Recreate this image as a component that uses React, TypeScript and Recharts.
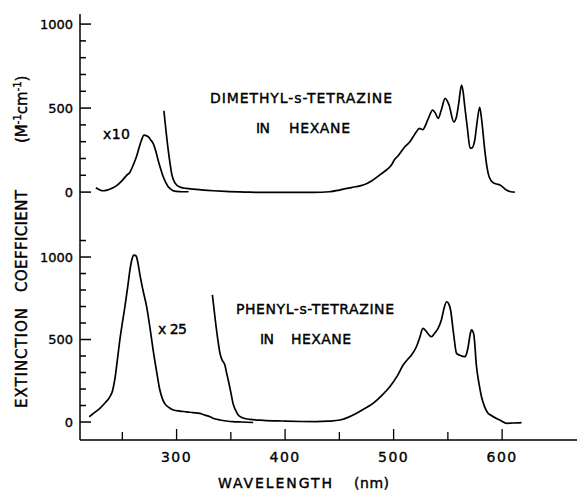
import { LineChart, Line, XAxis, YAxis } from 'recharts'

// wavelength (nm) / extinction coefficient pairs
const dimethylUvWl = [225.6, 229, 232, 236, 241, 245, 250, 254, 257, 260, 263, 265.5, 267.7, 270, 272, 274, 276, 278.4, 281, 283, 285.5, 287.7, 290, 292.3, 295, 297, 300, 305, 311]
const dimethylUvVal = [26, 14, 8, 12, 25, 40, 70, 100, 118, 160, 210, 265, 310, 339, 336, 328, 312, 290, 240, 190, 135, 91, 58, 32, 16, 8, 4, 2, 2]

const dimethylWl = [288.3, 290, 292.3, 294, 295.4, 297, 300, 304, 309, 315, 325, 334, 345, 364, 380, 395, 410, 426, 441, 450, 457, 465, 472, 480, 487, 493, 498, 501, 504, 510.4, 515, 518, 521, 523.6, 527, 529, 532, 536, 538.5, 541, 544, 547.5, 551, 555.5, 558, 560, 562.6, 564, 565.6, 568, 570.5, 572, 574.8, 577, 579.3, 581, 584, 586, 588, 591.7, 595, 598, 601, 604, 608, 611.7]
const dimethylVal = [484, 380, 250, 170, 111, 75, 42, 28, 22, 18, 12, 8, 4, 0, -2, -2, -2, -2, 2, 12, 22, 32, 42, 68, 101, 130, 161, 195, 215, 270, 300, 329, 359, 379, 372, 392, 438, 488, 470, 438, 490, 558, 520, 418, 450, 528, 637, 600, 508, 380, 262, 262, 310, 420, 505, 438, 250, 150, 91, 56, 48, 42, 28, 12, 2, 0]

const phenylUvWl = [219.5, 224, 229.3, 234, 238.5, 241, 243, 245.5, 247.7, 250, 252.4, 255, 257, 259, 260.5, 262, 263, 264.5, 266, 269, 272.4, 275.5, 278.4, 281.5, 284.6, 287, 289, 293, 297, 303, 309, 315, 321.5, 326, 330.7, 335, 340, 346, 352, 360, 370.6]
const phenylUvVal = [32, 55, 83, 115, 153, 190, 255, 380, 497, 600, 699, 820, 921, 990, 1012, 1010, 1002, 960, 901, 800, 699, 570, 436, 310, 194, 140, 113, 88, 73, 66, 62, 57, 52, 42, 32, 20, 12, 6, 2, 0, -3]

const phenylWl = [333, 336, 338, 340, 342, 344.5, 346, 347.6, 350, 352, 354.5, 356.8, 360, 367.5, 380, 398, 415, 428.7, 440, 450.5, 458, 465.9, 473, 481, 489, 496.5, 503, 508.8, 513, 516.5, 521, 524, 527, 530, 533, 535, 538, 541, 544, 546.5, 548.8, 550.5, 552.5, 555, 558, 561, 565.6, 567.5, 568.7, 570.5, 571.8, 573, 574, 576.4, 578.5, 581, 584, 587, 590, 594.8, 599, 604, 610, 617.9]
const phenylVal = [770, 600, 500, 416, 375, 345, 300, 255, 180, 113, 70, 42, 28, 16, 10, 6, 3, 2, 5, 12, 28, 53, 80, 113, 160, 214, 275, 345, 380, 406, 456, 510, 568, 550, 525, 517, 540, 568, 618, 690, 729, 720, 679, 550, 416, 405, 396, 420, 456, 530, 558, 550, 527, 335, 240, 153, 90, 53, 40, 22, 8, -8, -6, -4]

const topYTicks = [0, 100, 200, 300, 400, 500, 600, 700, 800, 900, 1000]
const bottomYTicks = [0, 100, 200, 300, 400, 500, 600, 700, 800, 900, 1000, 1100]
const xTicks = [250, 300, 350, 400, 450, 500, 550, 600]

const zip = (xs: number[], ys: number[]) => xs.map((x, i) => ({ x, y: ys[i] }))

const W = 577
const H = 491
const FONT = 'DejaVu Sans'
const X_DOMAIN: [number, number] = [211, 669]

function YTick({ x, y, payload }: any) {
  const major = payload.value % 500 === 0
  return (
    <g>
      <line x1={x} x2={x + (major ? 11 : 6)} y1={y} y2={y} stroke="#000" strokeWidth={1.5} />
      {major && (
        <text x={x - 7} y={y} dy="0.36em" textAnchor="end" fontFamily={FONT} fontSize={13} fill="#000" stroke="#000" strokeWidth={0.35}>
          {payload.value}
        </text>
      )}
    </g>
  )
}

function XTick({ x, y, payload }: any) {
  const major = payload.value % 100 === 0
  return (
    <g>
      <line x1={x} x2={x} y1={y} y2={y - (major ? 11 : 8)} stroke="#000" strokeWidth={1.3} />
      {major && (
        <text x={x} y={y + 22} textAnchor="middle" fontFamily={FONT} fontSize={14} letterSpacing={1.5} fill="#000" stroke="#000" strokeWidth={0.35}>
          {payload.value}
        </text>
      )}
    </g>
  )
}

const lineProps = {
  type: 'monotone' as const,
  dataKey: 'y',
  stroke: '#000',
  strokeWidth: 1.7,
  dot: false,
  isAnimationActive: false,
}

export default function App() {
  // slight outline to mimic the heavier lettering of the scanned figure
  const txt = { fontFamily: FONT, fill: '#000', stroke: '#000', strokeWidth: 0.4 }
  return (
    <div style={{ position: 'absolute', left: 0, top: 0, width: W, height: H, background: '#fff' }}>
      {/* dimethyl panel */}
      <div style={{ position: 'absolute', left: 0, top: 0 }}>
        <LineChart width={W} height={H} margin={{ top: 14, right: 0, bottom: H - 242.5, left: 0 }}>
          <XAxis type="number" dataKey="x" domain={X_DOMAIN} allowDataOverflow hide />
          <YAxis
            type="number"
            domain={[-300, 1060]}
            allowDataOverflow
            width={80}
            ticks={topYTicks}
            interval={0}
            tickSize={0}
            tickMargin={0}
            tickLine={false}
            tick={<YTick />}
            axisLine={{ stroke: '#000', strokeWidth: 1.5 }}
          />
          <Line {...lineProps} data={zip(dimethylUvWl, dimethylUvVal)} />
          <Line {...lineProps} data={zip(dimethylWl, dimethylVal)} />
        </LineChart>
      </div>
      {/* phenyl panel */}
      <div style={{ position: 'absolute', left: 0, top: 0 }}>
        <LineChart width={W} height={H} margin={{ top: 242.5, right: 0, bottom: 0, left: 0 }}>
          <XAxis
            type="number"
            dataKey="x"
            domain={X_DOMAIN}
            allowDataOverflow
            ticks={xTicks}
            interval={0}
            tickSize={0}
            tickMargin={0}
            tickLine={false}
            tick={<XTick />}
            height={H - 440}
            axisLine={{ stroke: '#000', strokeWidth: 1.5 }}
          />
          <YAxis
            type="number"
            domain={[-109, 1088]}
            allowDataOverflow
            width={80}
            ticks={bottomYTicks}
            interval={0}
            tickSize={0}
            tickMargin={0}
            tickLine={false}
            tick={<YTick />}
            axisLine={{ stroke: '#000', strokeWidth: 1.5 }}
          />
          <Line {...lineProps} data={zip(phenylUvWl, phenylUvVal)} />
          <Line {...lineProps} data={zip(phenylWl, phenylVal)} />
        </LineChart>
      </div>
      {/* annotations */}
      <svg width={W} height={H} style={{ position: 'absolute', left: 0, top: 0, pointerEvents: 'none' }}>
        <text {...txt} x={210} y={103} fontSize={14} textLength={182} lengthAdjust="spacing">DIMETHYL-s-TETRAZINE</text>
        <text {...txt} x={256} y={132.5} fontSize={14} textLength={14} lengthAdjust="spacing">IN</text>
        <text {...txt} x={289} y={132.5} fontSize={14} textLength={61} lengthAdjust="spacing">HEXANE</text>
        <text {...txt} x={103} y={139} fontSize={14} textLength={27} lengthAdjust="spacing">x10</text>

        <text {...txt} x={236} y={314} fontSize={14} textLength={158} lengthAdjust="spacing">PHENYL-s-TETRAZINE</text>
        <text {...txt} x={260} y={343.5} fontSize={14} textLength={14} lengthAdjust="spacing">IN</text>
        <text {...txt} x={291} y={343.5} fontSize={14} textLength={60} lengthAdjust="spacing">HEXANE</text>
        <text {...txt} x={158} y={333.5} fontSize={14} textLength={29} lengthAdjust="spacing">x 25</text>

        <g transform="rotate(-90)">
          <text {...txt} x={-408} y={27} fontSize={15} textLength={100} lengthAdjust="spacing">EXTINCTION</text>
          <text {...txt} x={-292} y={27} fontSize={15} textLength={102} lengthAdjust="spacing">COEFFICIENT</text>
          <text {...txt} x={-143} y={27} fontSize={15}>
            (M<tspan dy={-6} fontSize={10}>-1</tspan>
            <tspan dy={6}>cm</tspan>
            <tspan dy={-6} fontSize={10}>-1</tspan>
            <tspan dy={6}>)</tspan>
          </text>
        </g>

        <text {...txt} x={218} y={488} fontSize={14} textLength={114} lengthAdjust="spacing">WAVELENGTH</text>
        <text {...txt} x={354} y={488} fontSize={14} textLength={35} lengthAdjust="spacing">(nm)</text>
      </svg>
    </div>
  )
}
